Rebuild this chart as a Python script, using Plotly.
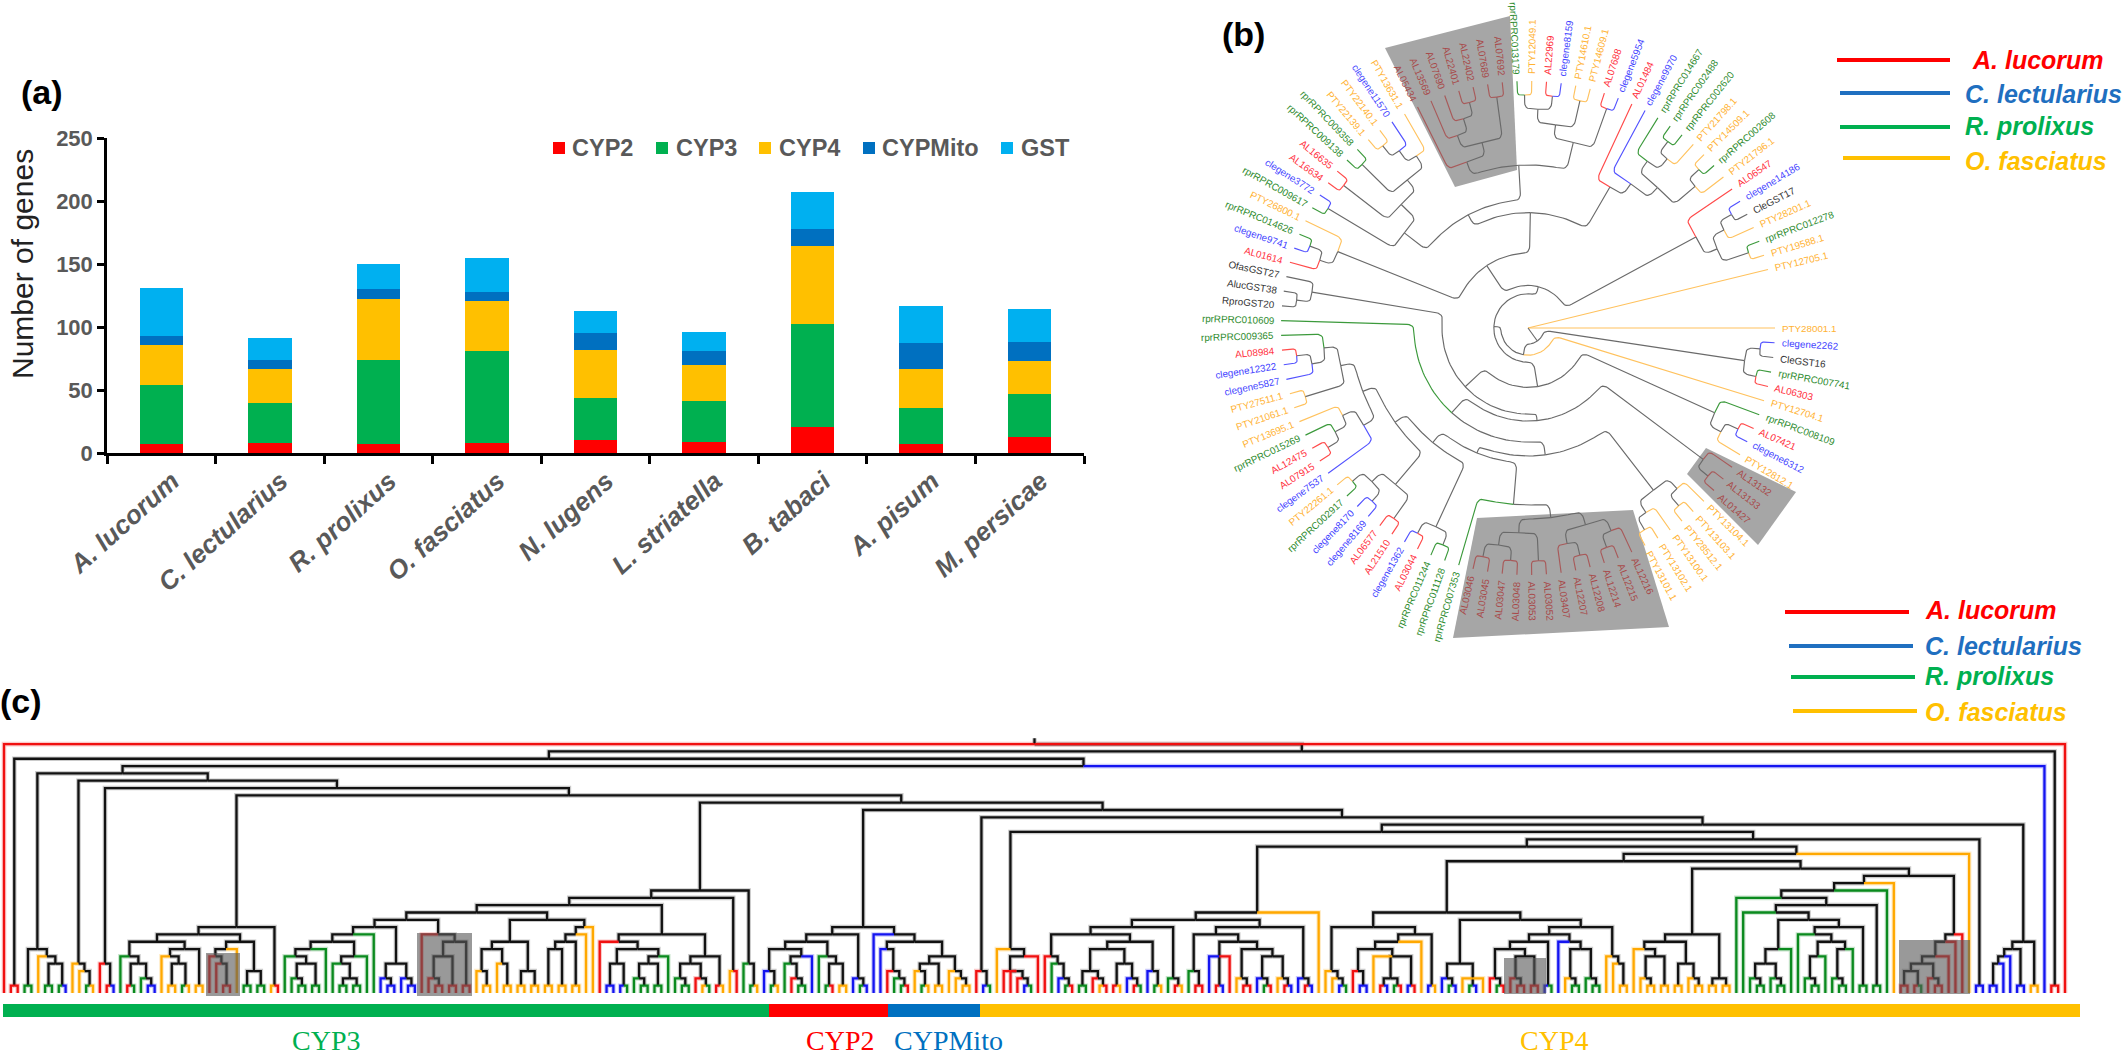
import math, re
import plotly.graph_objects as go

# ---------- panel (a) data ----------
species = ["A. lucorum", "C. lectularius", "R. prolixus", "O. fasciatus", "N. lugens",
           "L. striatella", "B. tabaci", "A. pisum", "M. persicae"]
cyp2 = [7, 8, 7, 8, 10, 9, 21, 7, 13]
cyp3 = [47, 32, 67, 73, 34, 32, 81, 29, 34]
cyp4 = [32, 27, 48, 40, 38, 29, 62, 31, 26]
cypmito = [7, 7, 8, 7, 13, 11, 14, 20, 15]
gst = [38, 17, 20, 27, 18, 15, 29, 30, 26]
family_names = ["CYP2", "CYP3", "CYP4", "CYPMito", "GST"]
family_colors = ["#FF0000", "#00B050", "#FFC000", "#0070C0", "#00B0F0"]

# ---------- panel (b) data: tip labels clockwise, then topology (x = next tip, number = node level) ----------
tips_b = ["PTY28001.1", "clegene2262", "CleGST16", "rprRPRC007741", "AL06303", "PTY12704.1", "rprRPRC008109",
          "AL07421", "clegene6312", "PTY12812.1", "AL13132", "AL13133", "AL01427", "PTY13104.1", "PTY13103.1",
          "PTY28512.1", "PTY13100.1", "PTY13102.1", "PTY13101.1", "AL12216", "AL12215", "AL12214", "AL12208",
          "AL12207", "AL03407", "AL03052", "AL03053", "AL03048", "AL03047", "AL03045", "AL03046", "rprRPRC007353",
          "rprRPRC011128", "rprRPRC011244", "AL03044", "clegene1362", "AL21510", "AL06577", "clegene8169",
          "clegene8170", "rprRPRC002917", "PTY22261.1", "clegene7537", "AL07915", "AL12475", "rprRPRC015269",
          "PTY13695.1", "PTY21061.1", "PTY27511.1", "clegene5827", "clegene12322", "AL08984", "rprRPRC009365",
          "rprRPRC010609", "RproGST20", "AlucGST38", "OfasGST27", "AL01614", "clegene9741", "rprRPRC014626",
          "PTY26800.1", "rprRPRC009617", "clegene3772", "AL16634", "AL16635", "rprRPRC009138", "rprRPRC009358",
          "PTY22139.1", "PTY22140.1", "clegene11570", "PTY13631.1", "AL05434", "AL13569", "AL07690", "AL22401",
          "AL22402", "AL07689", "AL07692", "rprRPRC013179", "PTY12049.1", "AL22969", "clegene8159", "PTY14610.1",
          "PTY14609.1", "AL07688", "clegene5954", "AL01484", "clegene9970", "rprRPRC014667", "rprRPRC002488",
          "rprRPRC002620", "PTY21798.1", "PTY14509.1", "rprRPRC002608", "PTY21796.1", "AL06547", "clegene14186",
          "CleGST17", "PTY28201.1", "rprRPRC012278", "PTY19588.1", "PTY12705.1"]
shaded_b = {"AL13132", "AL13133", "AL01427", "AL12216", "AL12215", "AL12214", "AL12208", "AL12207", "AL03407",
            "AL03052", "AL03053", "AL03048", "AL03047", "AL03045", "AL03046", "AL05434", "AL13569", "AL07690",
            "AL22401", "AL22402", "AL07689", "AL07692"}

bC1 = "((xx)(xx))"
bG1 = "(x((xx)x))"
bG2 = "(x(xx))"
bG3 = "((x(xx))(x(xx)))"
bG45 = "((((x(xx))((xx)x))((xx)((xx)(xx))))x)5"
bG5 = "((xx)(xx))"
bG6 = "(((xx)((xx)(xx)))((x(((xx)x)x))((xx)((x(xx))x)))5)6"
bM3 = "(" + bG3 + "(" + bG45 + "(" + bG5 + bG6 + ")7)8)8.5"
bM2 = "(" + bG2 + "(" + bM3 + "x)9.5)11"
bM1 = "(" + bG1 + "(" + bM2 + "((xx)x))11.5)13.4"
bK1 = "((x(xx))x)"
bV = "((xx)((xx)((xx)(((xx)x)x))4)5)6.5"
bGrey = "(x((x(x(xx)))(xx)))"
bUR = "((((xx)(xx))(xx))(xx))"
bH = "(x(x((x((xx)x))((xx)x))4)5)6"
bT = "(" + bK1 + "((" + bV + "(" + bGrey + bUR + ")6)8.5" + bH + ")9.4)12.3"
bE = "(x(((xx)x)(xx)))"
tree_b = "(x(" + bC1 + "(x(" + bM1 + "(" + bT + bE + ")14.6)15.2)15.7)16.5x)17.64"

# polygons behind the tree in (b) and the shaded clades in (c)
shade_b = [[(1385, 48), (1510, 16), (1517, 170), (1455, 187)],
           [(1477, 518), (1633, 510), (1669, 627), (1453, 638)],
           [(1706, 448), (1796, 492), (1758, 545), (1687, 474)]]
shade_c = [(206, 953, 240, 996), (417, 933, 472, 996), (1504, 958, 1546, 994), (1899, 940, 1970, 994)]

# ---------- panel (c) data: g/o/b/r = tip species, number = node level ----------
cC2 = "((gg)(o((gg)(gb))4)5)6"
cC3 = "(o(o(go))3)4"
cC4 = "(r(rb))4"
cA = "((((g((rg)(g(bb)))4)5((o((oo)(go))4)5(oo))6)7(((r(r(rr))4)5o)6((gg)(gg))3)7)8(or))9"
cP = "(((((g((g(gg))(gg))4)5g)6((g((gg)(gg)))4g)5)7g)8((b(bb))(b(bb)))4)9"
cQ = "(r(((r(rr))(rr))5(rr))7)8"
cB1112 = "((((o(oo))3(o(oo))4)6((oo)(oo))3)7(((((oo)(oo))6(oo))7o)8o)9)10"
cB112 = "((r(((bb)(bg))4(((g(gg))(gg))4g)5)6)7(((g(gg))(r(og)))4(ro))5)8"
cB = "(((((" + cP + cQ + ")10" + cB1112 + ")11" + cB112 + ")12(or)3)13(g(go))4)14"
cC = "(((((b(go))3((g(r(gg)))4b)5)6(g((gr)(oo))4)5)7(b(gb)))8(b((b(r(g(gr))))6(((o(go))3(oo))4(o(o(oo)))3)5)7)8)9"
cD = "(r(bg))3"
cE = "(o((r(r(r(bg))))3r)5)6"
cF11 = "(((r(g(b(gr)))4)5((((gg)(r(or)))3((ro)(b(rg)))4)6(b(go))3)7)8(g(ro)))9"
cF12 = "(((g(rr))3((b(rb)r)5((o(rr))((b(gr))(o(rb)))5)6)7)8(b(rb)))9"
cF = "((" + cF11 + cF12 + ")10o)11"
cG1 = "((o(o(bg)))3((((r(bb))3(o((rb)(gr))(br))5)6o)7(bo))8)9"
cG2 = "(((b(gb))(o(gb)o))4(((((r(gr))((r(rr))(rr))5)6(bg))7(b((o(gg))(g(gg)))6)7)8(o(o(oo))4)5)9)10"
cG = "(" + cG1 + cG2 + ")11"
cH = "(((o((o(oo))(oo))5)6((oo)(o(oo)))4)7((oo)(oo)))8"
cTop1 = "(((g(gg))(g(gg)))4g)6"
cC7 = "(((g(gg))g)5((g(gg))g)6)7"
cR25 = "(" + cTop1 + "((g" + cC7 + ")8(gg))9)10"
cDeep = "(g((g" + cR25 + ")11(gg))12)13"
cGrey = "((((((rr)(rg))3(r(rr)))4r)5r)7r)8"
cZ = "(((((bb)b)4b)5(bb))6(oo))7"
cR20 = "((" + cDeep + "g)14o)15"
cR14 = "((" + cF + "((" + cG + "(" + cH + "(" + cR20 + cGrey + ")16)17)18o)19)20(bb))21"
tree_c = ("((r(((rr)((" + cC2 + "(" + cC3 + "(" + cC4 + "(" + cA + "(" + cB + "(" + cC + "(" + cD + "((" + cE + cR14 +
          ")22" + cZ + ")23)24)25)26)27)28)29)30b)31)32(rr))33r)34)34.8")

tip_color_c = {"g": "#0a8a1e", "o": "#ffa800", "b": "#1414f0", "r": "#f01010"}


# ---------- tree helpers ----------
def parse(text):
    pos = 0
    count = 0

    def node():
        nonlocal pos, count
        if text[pos] != "(":
            ch = text[pos]
            pos += 1
            count += 1
            return {"tip": ch, "i": count - 1, "kids": [], "d": 0.0, "p": float(count - 1)}
        pos += 1
        kids = []
        while text[pos] != ")":
            kids.append(node())
        pos += 1
        m = re.match(r"[0-9.]+", text[pos:])
        d = 1 + max(k["d"] for k in kids)
        if m:
            d = float(m.group(0))
            pos += len(m.group(0))
        return {"tip": None, "kids": kids, "d": d, "p": (kids[0]["p"] + kids[-1]["p"]) / 2}

    tree = node()
    return tree, count


def walk(n):
    yield n
    for k in n["kids"]:
        yield from walk(k)


fig = go.Figure()

# ---------- panel (a) ----------
for name, vals, col in zip(family_names, [cyp2, cyp3, cyp4, cypmito, gst], family_colors):
    fig.add_trace(go.Bar(x=species, y=vals, name=name, marker=dict(color=col, line=dict(width=0)),
                         width=0.4, showlegend=False))

W, H = 2128, 1058
FONT = "Liberation Sans"


def add_lines(seg_list, color, width, opacity=1.0):
    xs, ys = [], []
    for seg in seg_list:
        xs += [p[0] for p in seg] + [None]
        ys += [p[1] for p in seg] + [None]
    fig.add_trace(go.Scatter(x=xs, y=ys, mode="lines", xaxis="x2", yaxis="y2", hoverinfo="skip", showlegend=False,
                             opacity=opacity, line=dict(color=color, width=width)))


# ---------- panel (b) ----------
CX, CY, R0, DR, LABEL_R = 1528.0, 328.0, 247.0, 14.0, 254.0
for poly in shade_b:
    fig.add_trace(go.Scatter(x=[p[0] for p in poly] + [poly[0][0]], y=[p[1] for p in poly] + [poly[0][1]],
                             mode="lines", fill="toself", fillcolor="#a6a6a6", line=dict(width=0, color="#a6a6a6"),
                             xaxis="x2", yaxis="y2", hoverinfo="skip", showlegend=False))

treeb, nb = parse(tree_b)
assert nb == len(tips_b), nb
STEP = 346.3 / (nb - 1)


def col_b(name, muted=False):
    if name.startswith("AL") and not name.startswith("Aluc"):
        return "#a85a5a" if muted else "#ff4a4a"
    if name.startswith("clegene"):
        return "#5252ff"
    if name.startswith("rpr"):
        return "#3c9a3c"
    if name.startswith("PTY"):
        return "#ffc25e"
    return "#6a6a6a"


def xy(r, a):
    t = math.radians(a)
    return (CX + r * math.cos(t), CY + r * math.sin(t))


def link_b(rp, ap, rc, ac):
    if rp < 1:
        return [xy(0, 0), xy(rc, ac)]
    arc = abs(math.radians(ac - ap)) * rp
    f = min(7.0, arc * 0.5, (rc - rp) * 0.5)
    pts = []
    if arc > 0.01:
        end = ac - math.copysign(math.degrees(f / rp), ac - ap)
        n = max(2, int(arc / 4))
        pts += [xy(rp, ap + (end - ap) * i / n) for i in range(n + 1)]
        x0, y0 = xy(rp, end)
        x1, y1 = xy(rp, ac)
        x2, y2 = xy(rp + f, ac)
        for j in range(1, 7):
            u = j / 6
            pts.append(((1 - u) ** 2 * x0 + 2 * u * (1 - u) * x1 + u * u * x2,
                        (1 - u) ** 2 * y0 + 2 * u * (1 - u) * y1 + u * u * y2))
    else:
        pts.append(xy(rp, ac))
    pts.append(xy(rc, ac))
    return pts


segs_b = {}
for n in walk(treeb):
    rp = max(R0 - DR * n["d"], 0)
    ap = n["p"] * STEP
    for k in n["kids"]:
        rc = max(R0 - DR * k["d"], 0)
        ac = k["p"] * STEP
        if k["tip"]:
            name = tips_b[k["i"]]
            c = col_b(name, name in shaded_b)
        else:
            c = "#6a6a6a"
        segs_b.setdefault(c, []).append(link_b(rp, ap, rc, ac))
for c, s in segs_b.items():
    add_lines(s, c, 1.15)

CW = {**{d: .556 for d in "0123456789"}, ".": .278, "A": .667, "L": .556, "P": .667, "T": .611, "Y": .667, "R": .722,
      "C": .722, "G": .778, "S": .667, "O": .778, "r": .333, "p": .556, "c": .5, "l": .222, "e": .556, "g": .556,
      "n": .556, "f": .278, "a": .556, "s": .5, "u": .556, "o": .556}
annots = []
LABEL_SIZE = 9.8
for i, name in enumerate(tips_b):
    a = i * STEP
    w = sum(CW.get(ch, .556) for ch in name) * LABEL_SIZE
    px, py = xy(LABEL_R + w / 2, a)
    norm = ((a + 180) % 360) - 180
    ang = norm if -90 <= norm <= 90 else (norm - 180 if norm > 0 else norm + 180)
    tc = {"AL": "#ff3040", "cl": "#4444ff", "rp": "#2e8b2e", "PT": "#ffb233"}.get(name[:2], "#333333")
    if name in shaded_b:
        tc = "#a84a4a"
    annots.append(dict(x=px, y=py, xref="x2", yref="y2", text=name, showarrow=False, textangle=ang,
                       xanchor="center", yanchor="middle", font=dict(family=FONT, size=LABEL_SIZE, color=tc)))

# ---------- panel (c) ----------
treec, nc = parse(tree_c)
X0, X1, YB, DY = 4.0, 2065.0, 993.0, 7.32
S = (X1 - X0) / (nc - 1)
segs_c = {}
for n in walk(treec):
    for k in n["kids"]:
        c = tip_color_c[k["tip"]] if k["tip"] else "#111111"
        xp, xc = X0 + S * n["p"], X0 + S * k["p"]
        segs_c.setdefault(c, []).append([(xp, YB - DY * n["d"]), (xc, YB - DY * n["d"]), (xc, YB - DY * k["d"])])
for c in ["#111111"] + list(tip_color_c.values()):
    add_lines(segs_c.get(c, []), c, 4.6, 0.22)     # soft edge of the enlarged original
for c in ["#111111"] + list(tip_color_c.values()):
    add_lines(segs_c.get(c, []), c, 2.3)

shapes = []
for x0, y0, x1, y1 in shade_c:
    shapes.append(dict(type="rect", xref="x2", yref="y2", x0=x0, x1=x1, y0=y0, y1=y1, layer="above",
                       fillcolor="rgba(90,90,90,0.62)", line=dict(width=0)))

# family band under the tree
band_names = ["CYP3", "CYP2", "CYPMito", "CYP4"]
band_edges = [3, 769, 888, 980, 2080]
band_colors = ["#00B050", "#FF0000", "#0070C0", "#FFC000"]
band_label_x = [326, 840, 948, 1554]
for i in range(4):
    shapes.append(dict(type="rect", xref="x2", yref="y2", x0=band_edges[i], x1=band_edges[i + 1], y0=1004, y1=1017,
                       fillcolor=band_colors[i], line=dict(width=0)))
    annots.append(dict(x=band_label_x[i], y=1040, xref="x2", yref="y2", text=band_names[i], showarrow=False,
                       font=dict(family="Liberation Serif", size=28, color=band_colors[i])))

# ---------- panel (a) legend and y title ----------
leg_sq = [553, 656, 759, 863, 1001]
leg_tx = [570, 674, 777, 880, 1019]
for nm, col, sx, tx in zip(family_names, family_colors, leg_sq, leg_tx):
    shapes.append(dict(type="rect", xref="x2", yref="y2", x0=sx, x1=sx + 12, y0=142, y1=154, fillcolor=col,
                       line=dict(width=0)))
    annots.append(dict(x=tx, y=148, xref="x2", yref="y2", text="<b>%s</b>" % nm, showarrow=False, xanchor="left",
                       font=dict(family=FONT, size=23.5, color="#595959")))
annots.append(dict(x=22, y=264, xref="x2", yref="y2", text="Number of genes", showarrow=False, textangle=-90,
                   font=dict(family=FONT, size=30, color="#222222")))

# ---------- species keys ----------
key_names = ["A. lucorum", "C. lectularius", "R. prolixus", "O. fasciatus"]
key_colors = ["#FF0000", "#1F6FC0", "#00B050", "#FFC000"]
key1 = dict(x0=[1837, 1840, 1840, 1843], x1=[1950, 1950, 1950, 1950], y=[60, 93, 127, 158],
            tx=[1970, 1963, 1963, 1963], ty=[60, 94, 126, 161])
key2 = dict(x0=[1785, 1789, 1791, 1793], x1=[1909, 1913, 1915, 1917], y=[612, 646, 677, 711],
            tx=[1923, 1923, 1923, 1923], ty=[610, 646, 676, 712])
for key in (key1, key2):
    for i in range(4):
        add_lines([[(key["x0"][i], key["y"][i]), (key["x1"][i], key["y"][i])]], key_colors[i], 4)
        annots.append(dict(x=key["tx"][i], y=key["ty"][i], xref="x2", yref="y2", showarrow=False, xanchor="left",
                           text="<b><i>%s</i></b>" % key_names[i],
                           font=dict(family=FONT, size=25, color=key_colors[i])))

# ---------- panel letters ----------
for txt, x, y in [("(a)", 42, 92), ("(b)", 1243, 34), ("(c)", 21, 701)]:
    annots.append(dict(x=x, y=y, xref="x2", yref="y2", text="<b>%s</b>" % txt, showarrow=False,
                       font=dict(family=FONT, size=34, color="#000000")))

fig.update_layout(
    width=W, height=H, margin=dict(l=0, r=0, t=0, b=0, autoexpand=False), barmode="stack", showlegend=False,
    paper_bgcolor="white", plot_bgcolor="rgba(0,0,0,0)", annotations=annots, shapes=shapes,
    xaxis=dict(domain=[107 / W, 1084 / W], anchor="y", type="category", tickson="boundaries", ticks="outside",
               ticklen=8, tickwidth=2.5, tickcolor="black", showline=True, linecolor="black", linewidth=2.5,
               tickangle=-42, showgrid=False, automargin=False, ticklabelshift=11,
               tickfont=dict(family=FONT, size=26, color="#595959", weight="bold", style="italic")),
    yaxis=dict(domain=[1 - 453 / H, 1 - 138 / H], anchor="x", range=[0, 250], dtick=50, ticks="outside", ticklen=7,
               tickwidth=2.5, tickcolor="black", showline=True, linecolor="black", linewidth=2.5, showgrid=False,
               zeroline=False, automargin=False, tickfont=dict(family=FONT, size=22, color="#595959", weight="bold")),
    xaxis2=dict(domain=[0, 1], range=[0, W], anchor="y2", visible=False, fixedrange=True, automargin=False),
    yaxis2=dict(domain=[0, 1], range=[H, 0], anchor="x2", visible=False, fixedrange=True, automargin=False),
)
fig.write_html("out.html", config={"displayModeBar": False},
               post_script="document.body.style.margin='0';document.body.style.overflow='hidden';")
